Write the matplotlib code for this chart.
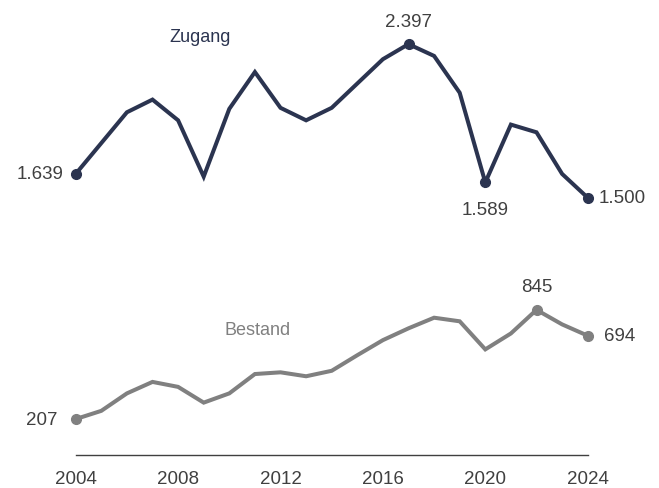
import matplotlib
matplotlib.use("Agg")
import matplotlib.pyplot as plt

plt.rcParams["font.family"] = ["Liberation Sans", "DejaVu Sans"]

years = list(range(2004, 2025))
zugang = [1639, 1819, 1999, 2073, 1952, 1623, 2019, 2234, 2025, 1952, 2025,
          2167, 2309, 2397, 2328, 2113, 1589, 1927, 1882, 1639, 1500]
bestand = [207, 255, 357, 424, 395, 303, 357, 470, 480, 457, 489,
           580, 668, 737, 799, 778, 614, 707, 845, 760, 694]
xticks = [2004, 2008, 2012, 2016, 2020, 2024]

navy = "#2b3450"
grey = "#808080"
txt = "#404040"


def fmt(v):
    return f"{v:,}".replace(",", ".")


fig = plt.figure(figsize=(6.59, 4.89), dpi=100)
W, H = 659, 489
x0, x1 = 75.7, 587.7
ybase = 455.5
scale = 0.1712
ymax = 2500
ax = fig.add_axes([x0 / W, (H - ybase) / H, (x1 - x0) / W, ymax * scale / H])
ax.set_xlim(2004, 2024)
ax.set_ylim(0, ymax)

ax.plot(years, zugang, color=navy, lw=2.9, solid_joinstyle="miter", clip_on=False)
ax.plot(years, bestand, color=grey, lw=2.9, solid_joinstyle="miter", clip_on=False)

# highlighted points
for i in [0, years.index(2017), years.index(2020), len(years) - 1]:
    ax.plot(years[i], zugang[i], "o", color=navy, ms=7, clip_on=False)
for i in [0, years.index(2022), len(years) - 1]:
    ax.plot(years[i], bestand[i], "o", color=grey, ms=7, clip_on=False)

fs = 13.5
i = 0
ax.annotate(fmt(zugang[i]), (years[i], zugang[i]), xytext=(-9, 0), textcoords="offset points",
            ha="right", va="center", fontsize=fs, color=txt)
i = years.index(2017)
ax.annotate(fmt(zugang[i]), (years[i], zugang[i]), xytext=(0, 10), textcoords="offset points",
            ha="center", va="bottom", fontsize=fs, color=txt)
i = years.index(2020)
ax.annotate(fmt(zugang[i]), (years[i], zugang[i]), xytext=(0, -13), textcoords="offset points",
            ha="center", va="top", fontsize=fs, color=txt)
i = len(years) - 1
ax.annotate(fmt(zugang[i]), (years[i], zugang[i]), xytext=(8, 0), textcoords="offset points",
            ha="left", va="center", fontsize=fs, color=txt)

i = 0
ax.annotate(fmt(bestand[i]), (years[i], bestand[i]), xytext=(-13, 0), textcoords="offset points",
            ha="right", va="center", fontsize=fs, color=txt)
i = years.index(2022)
ax.annotate(fmt(bestand[i]), (years[i], bestand[i]), xytext=(0, 11), textcoords="offset points",
            ha="center", va="bottom", fontsize=fs, color=txt)
i = len(years) - 1
ax.annotate(fmt(bestand[i]), (years[i], bestand[i]), xytext=(12, 0), textcoords="offset points",
            ha="left", va="center", fontsize=fs, color=txt)

ax.text(2008.85, 2440, "Zugang", ha="center", va="center", fontsize=13, color=navy)
ax.text(2011.1, 728, "Bestand", ha="center", va="center", fontsize=13, color=grey)

ax.set_xticks(xticks)
ax.set_xticklabels([str(t) for t in xticks], fontsize=fs, color=txt)
ax.tick_params(axis="x", length=0, pad=11)
ax.set_yticks([])
for s in ["top", "right", "left"]:
    ax.spines[s].set_visible(False)
ax.spines["bottom"].set_color("#404040")
ax.spines["bottom"].set_linewidth(1)

fig.savefig("out.png", dpi=100)
